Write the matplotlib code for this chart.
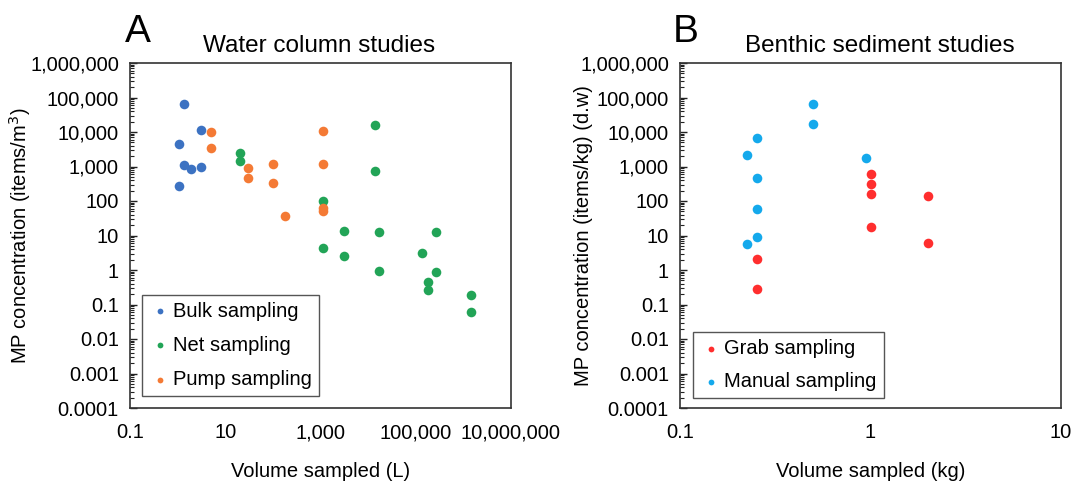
import numpy as np
import matplotlib
matplotlib.use("Agg")
import matplotlib.pyplot as plt
from matplotlib.ticker import FixedLocator, FuncFormatter, LogLocator, NullFormatter

plt.rcParams["font.family"] = ["Liberation Sans", "DejaVu Sans"]

# Panel A: water column studies (volume in L, concentration in items/m3)
bulk_x = [1.36, 3.1, 1.07, 1.34, 1.94, 3.1, 1.07]
bulk_y = [65000, 11800, 4400, 1100, 830, 950, 278]

net_x = [20.5, 20.5, 1135, 1135, 14200, 14200, 3130, 17000, 268000,
         3130, 17000, 136000, 268000, 182000, 182000, 1.44e6, 1.44e6]
net_y = [2420, 1480, 100, 4.2, 16200, 760, 13.7, 12.8, 12.8,
         2.5, 0.92, 3.15, 0.88, 0.45, 0.27, 0.19, 0.059]

pump_x = [5.1, 5.1, 30.6, 30.6, 100, 100, 180, 1135, 1135, 1135, 1150]
pump_y = [9860, 3390, 890, 455, 1160, 340, 36, 11000, 1160, 64, 53]

# Panel B: benthic sediment studies (mass in kg, items/kg d.w.)
grab_x = [0.253, 0.253, 1.0, 1.0, 1.0, 1.0, 2.0, 2.0]
grab_y = [2.05, 0.275, 593, 316, 163, 17.9, 142, 5.9]

manual_x = [0.50, 0.50, 0.253, 0.224, 0.946, 0.253, 0.253, 0.253, 0.224]
manual_y = [65000, 16900, 6750, 2160, 1770, 475, 58, 9.2, 5.5]

y_ticks = [1e-4, 1e-3, 1e-2, 1e-1, 1, 10, 100, 1e3, 1e4, 1e5, 1e6]
xa_ticks = [0.1, 10, 1e3, 1e5, 1e7]
xb_ticks = [0.1, 1, 10]

c_bulk = "#3C72C2"
c_net = "#22A457"
c_pump = "#F47A35"
c_grab = "#FF2E2E"
c_manual = "#14A9EC"

FS = 14.5


def fmt(v, pos=None):
    if v >= 1:
        return "{:,.0f}".format(v)
    return ("%.10f" % v).rstrip("0")


W, H = 1072, 482
fig = plt.figure(figsize=(W / 100, H / 100), dpi=100)
axA = fig.add_axes([130 / W, (H - 408) / H, 381 / W, 345 / H])
axB = fig.add_axes([680 / W, (H - 408) / H, 381 / W, 345 / H])

for ax in (axA, axB):
    ax.set_xscale("log")
    ax.set_yscale("log")
    ax.set_ylim(1e-4, 1e6)
    ax.yaxis.set_major_locator(FixedLocator(y_ticks))
    ax.yaxis.set_minor_locator(LogLocator(base=10, subs=np.arange(2, 10), numticks=100))
    ax.yaxis.set_major_formatter(FuncFormatter(fmt))
    ax.yaxis.set_minor_formatter(NullFormatter())
    ax.tick_params(axis="y", which="major", direction="in", length=5, width=1,
                   labelsize=FS, pad=8, color="#222222")
    ax.tick_params(axis="y", which="minor", direction="in", length=3, width=0.8,
                   color="#222222")
    ax.tick_params(axis="x", which="both", length=0, labelsize=FS, pad=11)
    ax.xaxis.set_minor_formatter(NullFormatter())
    for s in ax.spines.values():
        s.set_color("#333333")
        s.set_linewidth(1.2)

axA.set_xlim(0.1, 1e7)
axA.xaxis.set_major_locator(FixedLocator(xa_ticks))
axA.xaxis.set_major_formatter(FuncFormatter(fmt))
axB.set_xlim(0.1, 10)
axB.xaxis.set_major_locator(FixedLocator(xb_ticks))
axB.xaxis.set_major_formatter(FuncFormatter(fmt))

ms = 48
axA.scatter(bulk_x, bulk_y, s=ms, color=c_bulk, label="Bulk sampling", zorder=3, linewidths=0)
axA.scatter(net_x, net_y, s=ms, color=c_net, label="Net sampling", zorder=3, linewidths=0)
axA.scatter(pump_x, pump_y, s=ms, color=c_pump, label="Pump sampling", zorder=3, linewidths=0)

axB.scatter(grab_x, grab_y, s=ms, color=c_grab, label="Grab sampling", zorder=3, linewidths=0)
axB.scatter(manual_x, manual_y, s=ms, color=c_manual, label="Manual sampling", zorder=3, linewidths=0)

for ax, anchor, sp in ((axA, (0.031, 0.035), 0.75), (axB, (0.034, 0.029), 0.7)):
    leg = ax.legend(loc="lower left", bbox_to_anchor=anchor, fontsize=FS,
                    fancybox=False, framealpha=1, edgecolor="#555555",
                    handletextpad=0.1, markerscale=0.6, borderpad=0.35,
                    labelspacing=sp, handlelength=1.1, borderaxespad=0)
    leg.get_frame().set_linewidth(1.0)

axA.set_ylabel("MP concentration (items/m$^3$)", fontsize=FS)
axA.yaxis.set_label_coords(-0.255, 0.5)
axB.set_ylabel("MP concentration (items/kg) (d.w)", fontsize=FS)
axB.yaxis.set_label_coords(-0.228, 0.5)

axA.set_xlabel("Volume sampled (L)", fontsize=FS, labelpad=14)
axB.set_xlabel("Volume sampled (kg)", fontsize=FS, labelpad=14)

axA.text(0.495, 1.018, "Water column studies", transform=axA.transAxes,
         ha="center", va="bottom", fontsize=17.5)
axB.text(0.525, 1.018, "Benthic sediment studies", transform=axB.transAxes,
         ha="center", va="bottom", fontsize=17.5)

fig.text(125 / W, 1 - 42 / H, "A", fontsize=28, ha="left", va="baseline")
fig.text(673 / W, 1 - 42 / H, "B", fontsize=28, ha="left", va="baseline")

fig.savefig("out.png", dpi=100, facecolor="white")
